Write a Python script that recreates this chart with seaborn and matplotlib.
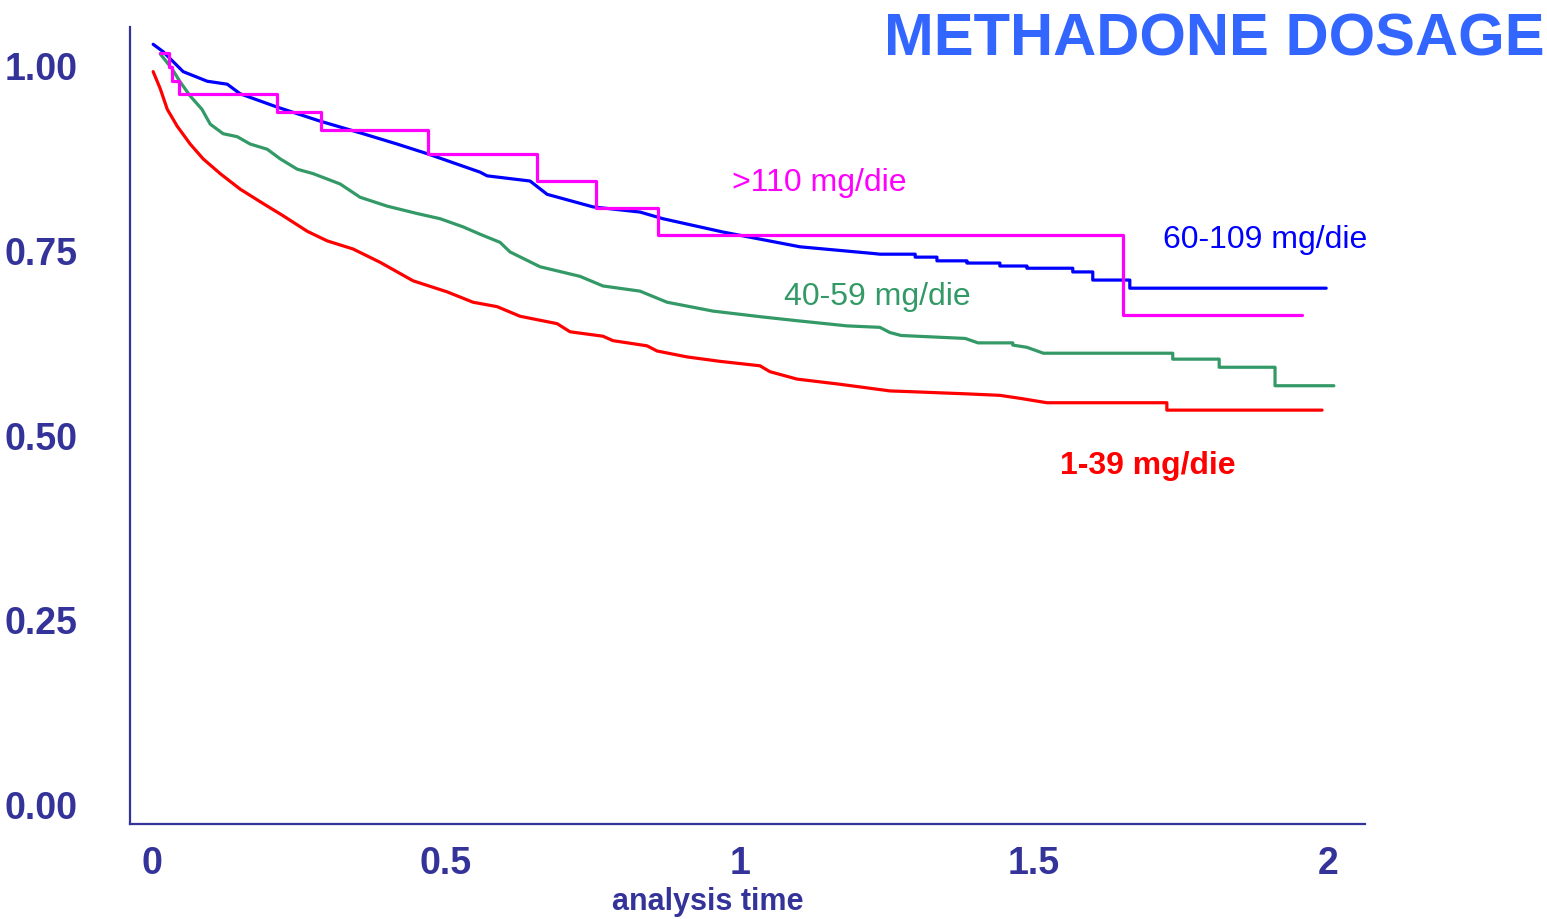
import matplotlib
matplotlib.use("Agg")
import matplotlib.pyplot as plt
import seaborn as sns
import pandas as pd

# ---- data ----
t_60_109 = [0.002, 0.019, 0.053, 0.094, 0.128, 0.150, 0.213, 0.286, 0.359, 0.417, 0.468,
            0.558, 0.570, 0.643, 0.672, 0.750, 0.830, 0.869, 0.971, 1.102, 1.226,
            1.238, 1.298, 1.298, 1.335, 1.335, 1.386, 1.386, 1.442, 1.442, 1.488, 1.488,
            1.566, 1.566, 1.600, 1.600, 1.663, 1.663, 1.997]
s_60_109 = [1.028, 1.018, 0.991, 0.978, 0.974, 0.961, 0.943, 0.924, 0.907, 0.893, 0.880,
            0.855, 0.850, 0.843, 0.825, 0.808, 0.801, 0.792, 0.774, 0.754, 0.745,
            0.744, 0.744, 0.740, 0.740, 0.735, 0.735, 0.732, 0.732, 0.728, 0.728, 0.725,
            0.725, 0.720, 0.720, 0.709, 0.709, 0.698, 0.698]

t_40_59 = [0.014, 0.034, 0.048, 0.065, 0.085, 0.099, 0.121, 0.145, 0.167, 0.196, 0.218,
           0.247, 0.274, 0.320, 0.354, 0.400, 0.451, 0.490, 0.529, 0.558, 0.592, 0.609,
           0.660, 0.728, 0.767, 0.830, 0.876, 0.954, 1.039, 1.097, 1.182, 1.238, 1.255,
           1.274, 1.383, 1.405, 1.464, 1.464, 1.488, 1.516, 1.736, 1.736, 1.815, 1.815,
           1.910, 1.910, 2.010]
s_40_59 = [1.015, 0.995, 0.977, 0.958, 0.940, 0.920, 0.907, 0.903, 0.893, 0.886, 0.873,
           0.859, 0.853, 0.839, 0.821, 0.809, 0.799, 0.792, 0.781, 0.771, 0.760, 0.747,
           0.727, 0.714, 0.701, 0.694, 0.679, 0.667, 0.659, 0.654, 0.647, 0.645, 0.638,
           0.634, 0.630, 0.624, 0.624, 0.621, 0.618, 0.610, 0.610, 0.602, 0.602, 0.591,
           0.591, 0.566, 0.566]

t_1_39 = [0.002, 0.014, 0.026, 0.043, 0.065, 0.087, 0.116, 0.150, 0.184, 0.223, 0.264,
          0.298, 0.342, 0.388, 0.444, 0.502, 0.546, 0.587, 0.626, 0.689, 0.711, 0.767,
          0.784, 0.842, 0.859, 0.910, 0.966, 1.034, 1.051, 1.097, 1.170, 1.255, 1.289,
          1.386, 1.442, 1.476, 1.522, 1.726, 1.726, 1.990]
s_1_39 = [0.991, 0.968, 0.940, 0.917, 0.893, 0.873, 0.853, 0.832, 0.815, 0.796, 0.775,
          0.762, 0.751, 0.733, 0.708, 0.693, 0.679, 0.673, 0.660, 0.650, 0.639, 0.633,
          0.627, 0.620, 0.613, 0.605, 0.599, 0.593, 0.585, 0.575, 0.568, 0.559, 0.558,
          0.555, 0.553, 0.549, 0.543, 0.543, 0.533, 0.533]

t_110 = [0.014, 0.029, 0.034, 0.046, 0.213, 0.287, 0.469, 0.655, 0.755, 0.861, 1.651, 1.956]
s_110 = [1.016, 0.997, 0.979, 0.961, 0.936, 0.912, 0.880, 0.843, 0.806, 0.770, 0.662, 0.662]

x_ticks = [0, 0.5, 1, 1.5, 2]
x_tick_labels = ["0", "0.5", "1", "1.5", "2"]
y_ticks = [0.0, 0.25, 0.50, 0.75, 1.00]
y_tick_labels = ["0.00", "0.25", "0.50", "0.75", "1.00"]

title = "METHADONE DOSAGE"
x_label = "analysis time"
group_labels = ["1-39 mg/die", "40-59 mg/die", "60-109 mg/die", ">110 mg/die"]

# ---- style ----
sns.set_theme(style="white")
plt.rcParams["font.family"] = ["Liberation Sans", "DejaVu Sans"]

NAVY = "#333399"
C_RED = "#FF0000"
C_GREEN = "#339966"
C_BLUE = "#0000FF"
C_MAG = "#FF00FF"

fig = plt.figure(figsize=(15.47, 9.2), dpi=100)
ax = fig.add_axes([130 / 1547, 1 - 825 / 920, 1235 / 1547, 797 / 920])

lw = 2.3
sns.lineplot(x=t_1_39, y=s_1_39, ax=ax, color=C_RED, lw=lw, estimator=None, sort=False)
sns.lineplot(x=t_40_59, y=s_40_59, ax=ax, color=C_GREEN, lw=lw, estimator=None, sort=False)
sns.lineplot(x=t_60_109, y=s_60_109, ax=ax, color=C_BLUE, lw=lw, estimator=None, sort=False)
sns.lineplot(x=t_110, y=s_110, ax=ax, color=C_MAG, lw=lw, estimator=None, sort=False,
             drawstyle="steps-post")

ax.set_xlim(-0.0374, 2.063)
ax.set_ylim(-0.027, 1.0514)

for s in ["top", "right"]:
    ax.spines[s].set_visible(False)
for s in ["left", "bottom"]:
    ax.spines[s].set_color(NAVY)
    ax.spines[s].set_linewidth(1.6)

tick_font = ["Liberation Sans", "DejaVu Sans"]
ax.set_xticks(x_ticks)
ax.set_xticklabels(x_tick_labels, family=tick_font, fontweight="bold", fontsize=27, color=NAVY)
ax.set_yticks(y_ticks)
ax.set_yticklabels(y_tick_labels, family=tick_font, fontweight="bold", fontsize=27, color=NAVY)
ax.tick_params(axis="x", length=0, pad=15)
ax.tick_params(axis="y", length=0, pad=38)
ax.grid(False)

ax.set_xlabel(x_label, family=tick_font, fontweight="bold", fontsize=22, color=NAVY)
ax.xaxis.set_label_coords(0.468, -0.078)
ax.set_ylabel("")

# title
fig.text(1545 / 1547, 1 - 40 / 920, title, ha="right", va="center",
         fontsize=43, fontweight="bold", color="#3366FF")

# group labels (data coordinates)
ax.text(1.134, 0.842, group_labels[3], color=C_MAG, fontsize=23, ha="center", va="center")
ax.text(1.893, 0.764, group_labels[2], color=C_BLUE, fontsize=23, ha="center", va="center")
ax.text(1.234, 0.687, group_labels[1], color=C_GREEN, fontsize=23, ha="center", va="center")
ax.text(1.694, 0.459, group_labels[0], color=C_RED, fontsize=23, fontweight="bold",
        ha="center", va="center")

fig.savefig("out.png", dpi=100, facecolor="white")
